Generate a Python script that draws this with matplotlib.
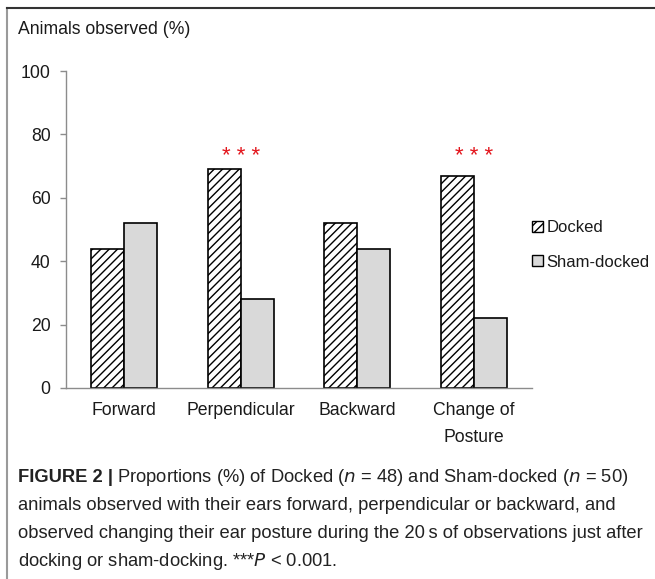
import matplotlib.pyplot as plt
import numpy as np
from matplotlib.patches import Patch
from matplotlib.lines import Line2D

plt.rcParams['font.family'] = ['Liberation Sans', 'DejaVu Sans']
plt.rcParams['hatch.linewidth'] = 1.0

# datos
categories = ['Forward', 'Perpendicular', 'Backward', 'Change of\nPosture']
docked = [44, 69, 52, 67]
sham_docked = [52, 28, 44, 22]
significant = [False, True, False, True]
y_ticks = [0, 20, 40, 60, 80, 100]

fig = plt.figure(figsize=(6.55, 5.79), dpi=100)
ax = fig.add_axes([66 / 655, 1 - 388 / 579, 466 / 655, 317 / 579])

x = np.arange(len(categories))
w = 0.285
ax.bar(x - w / 2, docked, w, color='white', edgecolor='black', hatch='////',
       linewidth=1.2)
ax.bar(x + w / 2, sham_docked, w, color='#d9d9d9', edgecolor='black',
       linewidth=1.2)

# asteriscos a la misma altura
for i, sig in enumerate(significant):
    if sig:
        ax.text(x[i], 71.2, '* * *', color='#e3151c', ha='center',
                va='baseline', fontsize=16)

ax.set_xlim(-0.5, len(categories) - 0.5)
ax.set_ylim(0, 100)
ax.set_yticks(y_ticks)
ax.set_xticks(x)
ax.set_xticklabels(categories, fontsize=12.7, color='#1a1a1a', linespacing=1.75)
ax.tick_params(axis='x', length=0, pad=10)
ax.tick_params(axis='y', length=4, width=1, color='#8c8c8c', pad=7,
               labelsize=12.7, labelcolor='#1a1a1a')
for s in ['top', 'right']:
    ax.spines[s].set_visible(False)
for s in ['left', 'bottom']:
    ax.spines[s].set_color('#8c8c8c')
    ax.spines[s].set_linewidth(1.0)

fig.text(18 / 655, 1 - 29 / 579, 'Animals observed (%)', fontsize=12.7,
         color='#1a1a1a', va='center')

handles = [Patch(facecolor='white', edgecolor='black', hatch='////', label='Docked'),
           Patch(facecolor='#d9d9d9', edgecolor='black', label='Sham-docked')]
fig.legend(handles=handles, loc='center left', bbox_to_anchor=(524 / 655, 1 - 245 / 579),
           frameon=False, fontsize=12, handlelength=0.65, handleheight=0.65,
           handletextpad=0.2, labelspacing=1.15, borderpad=0, labelcolor='#1a1a1a')

# marco de la figura
fig.add_artist(Line2D([7 / 655, 7 / 655], [0, 1 - 8 / 579], color='#9a9a9a', lw=1.5))
fig.add_artist(Line2D([7 / 655, 1], [1 - 8 / 579, 1 - 8 / 579], color='#333333', lw=1.5))

# pie de figura
cap_size = 13.2
cap_color = '#222222'
renderer = fig.canvas.get_renderer()
t0 = fig.text(18 / 655, 1 - 477 / 579, 'FIGURE 2 |', fontsize=cap_size, fontweight='bold',
              color=cap_color, va='center')
bb = t0.get_window_extent(renderer)
fig.text((bb.x1 + 4) / 655, 1 - 477 / 579,
         'Proportions (%) of Docked ($\\it{n}$ = 48) and Sham-docked ($\\it{n}$ = 50)',
         fontsize=cap_size, color=cap_color, va='center')
caption_lines = [
    'animals observed with their ears forward, perpendicular or backward, and',
    'observed changing their ear posture during the 20\u2009s of observations just after',
    'docking or sham-docking. ***$\\it{P}$ < 0.001.',
]
for k, line in enumerate(caption_lines):
    fig.text(18 / 655, 1 - (505 + 28 * k) / 579, line, fontsize=cap_size,
             color=cap_color, va='center')

fig.savefig('out.png', dpi=100)
